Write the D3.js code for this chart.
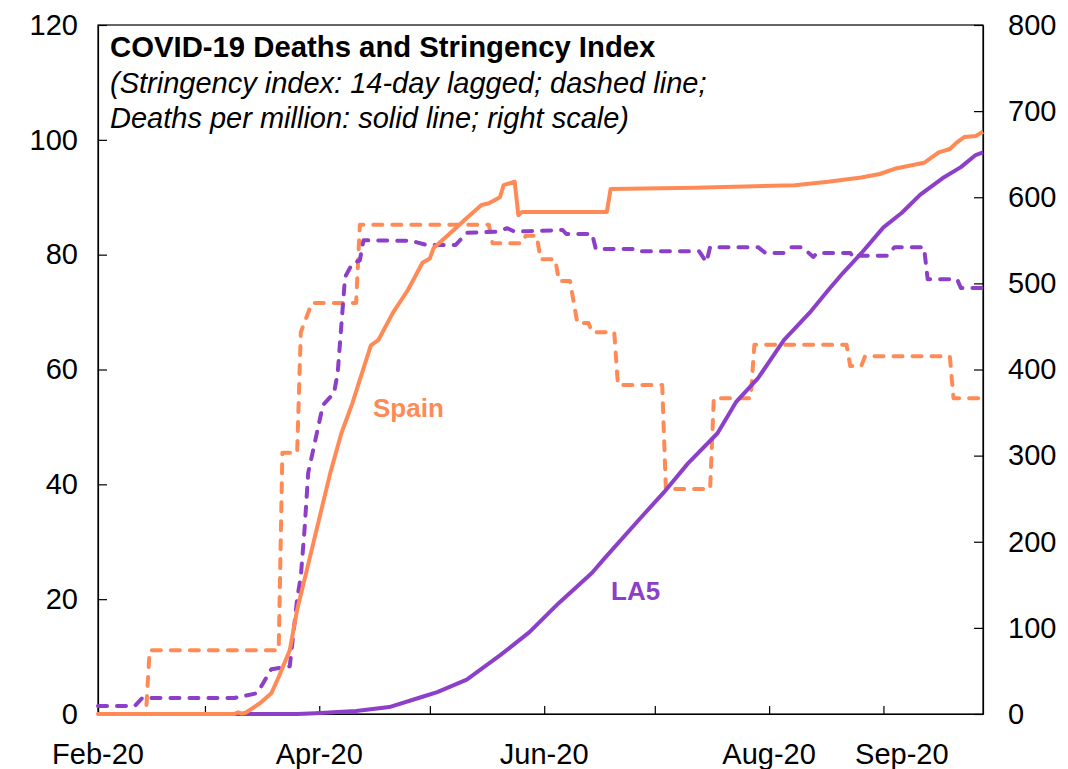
<!DOCTYPE html>
<html>
<head>
<meta charset="utf-8">
<script src="https://cdn.jsdelivr.net/npm/d3@7"></script>
<style>
  body { margin: 0; background: #fff; }
  svg text { font-family: Arial, "Liberation Sans", sans-serif; }
</style>
</head>
<body>
<svg id="chart" width="1068" height="769"></svg>
<script>
// stringency index, 14-day lagged (left scale)
const spainStringency = [
  ["2020-02-01", 0], ["2020-02-14", 0], ["2020-02-15", 11.1], ["2020-03-21", 11.1],
  ["2020-03-22", 45.5], ["2020-03-26", 45.5], ["2020-03-27", 66.5], ["2020-03-30", 71.6],
  ["2020-04-11", 71.6], ["2020-04-12", 85.2], ["2020-05-17", 85.2], ["2020-05-18", 82.0],
  ["2020-05-26", 82.0], ["2020-05-27", 83.3], ["2020-05-30", 83.3], ["2020-05-31", 79.2],
  ["2020-06-04", 79.2], ["2020-06-05", 75.4], ["2020-06-08", 75.4], ["2020-06-10", 68.1],
  ["2020-06-13", 68.1], ["2020-06-14", 66.5], ["2020-06-20", 66.5], ["2020-06-21", 57.3],
  ["2020-07-03", 57.3], ["2020-07-04", 39.2], ["2020-07-16", 39.2], ["2020-07-17", 55.0],
  ["2020-07-27", 55.0], ["2020-07-28", 64.3], ["2020-08-22", 64.3], ["2020-08-23", 60.6],
  ["2020-08-26", 60.6], ["2020-08-27", 62.3], ["2020-09-19", 62.3], ["2020-09-20", 55.0],
  ["2020-09-28", 55.0]
];
const la5Stringency = [
  ["2020-02-01", 1.4], ["2020-02-11", 1.4], ["2020-02-13", 2.8], ["2020-03-09", 2.8],
  ["2020-03-15", 3.6], ["2020-03-16", 4.5], ["2020-03-19", 7.8], ["2020-03-24", 8.3],
  ["2020-03-26", 20], ["2020-03-27", 24], ["2020-03-28", 32], ["2020-03-29", 42],
  ["2020-04-02", 53.8], ["2020-04-05", 55.9], ["2020-04-06", 59.4], ["2020-04-08", 76.1],
  ["2020-04-10", 78.5], ["2020-04-12", 79], ["2020-04-13", 82.5], ["2020-04-26", 82.4],
  ["2020-04-30", 81.7], ["2020-05-08", 81.7], ["2020-05-11", 83.8], ["2020-05-19", 84.0],
  ["2020-05-22", 84.6], ["2020-05-24", 84.0], ["2020-05-28", 84.1], ["2020-06-06", 84.3],
  ["2020-06-07", 83.6], ["2020-06-14", 83.6], ["2020-06-15", 81.0], ["2020-06-25", 81.0],
  ["2020-06-26", 80.6], ["2020-07-13", 80.6], ["2020-07-15", 78.7], ["2020-07-16", 81.3],
  ["2020-07-29", 81.3], ["2020-07-31", 80.3], ["2020-08-05", 80.3], ["2020-08-07", 81.3],
  ["2020-08-10", 81.3], ["2020-08-13", 79.6], ["2020-08-14", 80.3], ["2020-08-23", 80.3],
  ["2020-08-24", 79.4], ["2020-08-25", 79.8], ["2020-09-02", 79.8], ["2020-09-04", 81.3],
  ["2020-09-12", 81.3], ["2020-09-13", 75.7], ["2020-09-21", 75.7], ["2020-09-22", 74.2],
  ["2020-09-28", 74.2]
];
// deaths per million (right scale)
const spainDeaths = [
  ["2020-02-01", 0], ["2020-03-09", 0], ["2020-03-10", 2], ["2020-03-11", 0.5],
  ["2020-03-12", 1.5], ["2020-03-14", 7], ["2020-03-16", 12.8], ["2020-03-19", 24],
  ["2020-03-21", 43], ["2020-03-24", 74], ["2020-03-26", 121], ["2020-03-28", 156],
  ["2020-04-04", 280], ["2020-04-07", 326], ["2020-04-10", 361], ["2020-04-12", 388],
  ["2020-04-15", 428], ["2020-04-17", 434], ["2020-04-21", 466], ["2020-04-25", 492],
  ["2020-04-29", 524], ["2020-05-01", 529], ["2020-05-02", 541], ["2020-05-08", 564],
  ["2020-05-11", 576], ["2020-05-15", 591], ["2020-05-17", 593], ["2020-05-20", 600],
  ["2020-05-21", 614], ["2020-05-24", 618], ["2020-05-25", 579], ["2020-05-26", 583],
  ["2020-06-18", 583], ["2020-06-19", 609.5], ["2020-07-12", 611], ["2020-08-08", 614],
  ["2020-08-17", 618], ["2020-08-26", 623], ["2020-08-31", 627], ["2020-09-04", 633],
  ["2020-09-12", 640], ["2020-09-16", 652], ["2020-09-19", 656], ["2020-09-21", 664],
  ["2020-09-23", 670], ["2020-09-26", 671], ["2020-09-28", 676]
];
const la5Deaths = [
  ["2020-02-01", 0], ["2020-03-26", 0], ["2020-03-31", 1], ["2020-04-11", 3.5],
  ["2020-04-20", 8], ["2020-04-29", 20], ["2020-05-03", 25.5], ["2020-05-11", 40],
  ["2020-05-20", 68], ["2020-05-28", 95], ["2020-06-05", 129], ["2020-06-14", 164],
  ["2020-06-17", 179], ["2020-06-27", 227], ["2020-07-04", 260], ["2020-07-10", 291],
  ["2020-07-18", 326], ["2020-07-23", 362], ["2020-07-29", 390], ["2020-08-05", 434],
  ["2020-08-12", 466], ["2020-08-17", 492], ["2020-08-21", 512], ["2020-08-26", 535],
  ["2020-09-01", 565], ["2020-09-06", 582], ["2020-09-11", 603], ["2020-09-17", 622],
  ["2020-09-22", 635], ["2020-09-26", 649], ["2020-09-28", 652]
];

const leftTicks = [0, 20, 40, 60, 80, 100, 120];
const rightTicks = [0, 100, 200, 300, 400, 500, 600, 700, 800];
const xLabels = [
  ["2020-02-01", "Feb-20"], ["2020-04-01", "Apr-20"], ["2020-06-01", "Jun-20"],
  ["2020-08-01", "Aug-20"], ["2020-09-06", "Sep-20"]
];
const titleText = "COVID-19 Deaths and Stringency Index";
const subtitleLines = [
  "(Stringency index: 14-day lagged; dashed line;",
  "Deaths per million: solid line; right scale)"
];

const orange = "#FF8A56";
const purple = "#8C3FC8";

const parse = d3.timeParse("%Y-%m-%d");
const margin = { left: 98, right: 983, top: 25, bottom: 714 };

const svg = d3.select("#chart");

const x = d3.scaleTime()
  .domain([parse("2020-02-01"), parse("2020-09-28")])
  .range([margin.left, margin.right]);
const yLeft = d3.scaleLinear().domain([0, 120]).range([margin.bottom, margin.top]);
const yRight = d3.scaleLinear().domain([0, 800]).range([margin.bottom, margin.top]);

// plot frame
svg.append("rect")
  .attr("x", margin.left).attr("y", margin.top)
  .attr("width", margin.right - margin.left)
  .attr("height", margin.bottom - margin.top)
  .attr("fill", "none").attr("stroke", "#000").attr("stroke-width", 1.2);

// axes, ticks pointing into the plot
const xAxis = svg.append("g")
  .attr("transform", `translate(0,${margin.bottom})`)
  .call(d3.axisBottom(x).ticks(d3.timeMonth.every(1)).tickSizeInner(-8).tickSizeOuter(0).tickFormat(""));
const leftAxis = svg.append("g")
  .attr("transform", `translate(${margin.left},0)`)
  .call(d3.axisLeft(yLeft).tickValues(leftTicks).tickSizeInner(-9).tickSizeOuter(0).tickPadding(20));
const rightAxis = svg.append("g")
  .attr("transform", `translate(${margin.right},0)`)
  .call(d3.axisRight(yRight).tickValues(rightTicks).tickSizeInner(-9).tickSizeOuter(0).tickPadding(25));

[xAxis, leftAxis, rightAxis].forEach(g => {
  g.select(".domain").attr("stroke", "#000").attr("stroke-width", 1.2);
  g.selectAll(".tick line").attr("stroke", "#000").attr("stroke-width", 1.2);
  g.selectAll(".tick text").attr("font-size", 29).attr("fill", "#000")
    .attr("font-family", "Arial, 'Liberation Sans', sans-serif");
});

svg.append("g").selectAll("text")
  .data(xLabels)
  .join("text")
  .attr("x", d => x(parse(d[0])))
  .attr("y", 764)
  .attr("text-anchor", "middle")
  .attr("font-size", 29)
  .text(d => d[1]);

// series
const lineLeft = d3.line().x(d => x(parse(d[0]))).y(d => yLeft(d[1]));
const lineRight = d3.line().x(d => x(parse(d[0]))).y(d => yRight(d[1]));

const series = [
  { data: spainStringency, line: lineLeft, color: orange, dashed: true },
  { data: la5Stringency, line: lineLeft, color: purple, dashed: true },
  { data: la5Deaths, line: lineRight, color: purple, dashed: false },
  { data: spainDeaths, line: lineRight, color: orange, dashed: false }
];

svg.append("g").selectAll("path")
  .data(series)
  .join("path")
  .attr("d", d => d.line(d.data))
  .attr("fill", "none")
  .attr("stroke", d => d.color)
  .attr("stroke-width", 4)
  .attr("stroke-linejoin", "round")
  .attr("stroke-linecap", d => d.dashed ? "round" : "butt")
  .attr("stroke-dasharray", d => d.dashed ? "9 10" : null);

// series labels
svg.append("text")
  .attr("x", 373).attr("y", 417)
  .attr("font-size", 26).attr("font-weight", "bold").attr("fill", orange)
  .text("Spain");
svg.append("text")
  .attr("x", 611).attr("y", 600)
  .attr("font-size", 26).attr("font-weight", "bold").attr("fill", purple)
  .text("LA5");

// title block
svg.append("text")
  .attr("x", 110).attr("y", 57)
  .attr("font-size", 29.3).attr("font-weight", "bold").attr("fill", "#000")
  .text(titleText);
svg.append("g").selectAll("text")
  .data(subtitleLines)
  .join("text")
  .attr("x", 110)
  .attr("y", (d, i) => 93 + i * 35)
  .attr("font-size", 29).attr("font-style", "italic").attr("fill", "#000")
  .text(d => d);
</script>
</body>
</html>
